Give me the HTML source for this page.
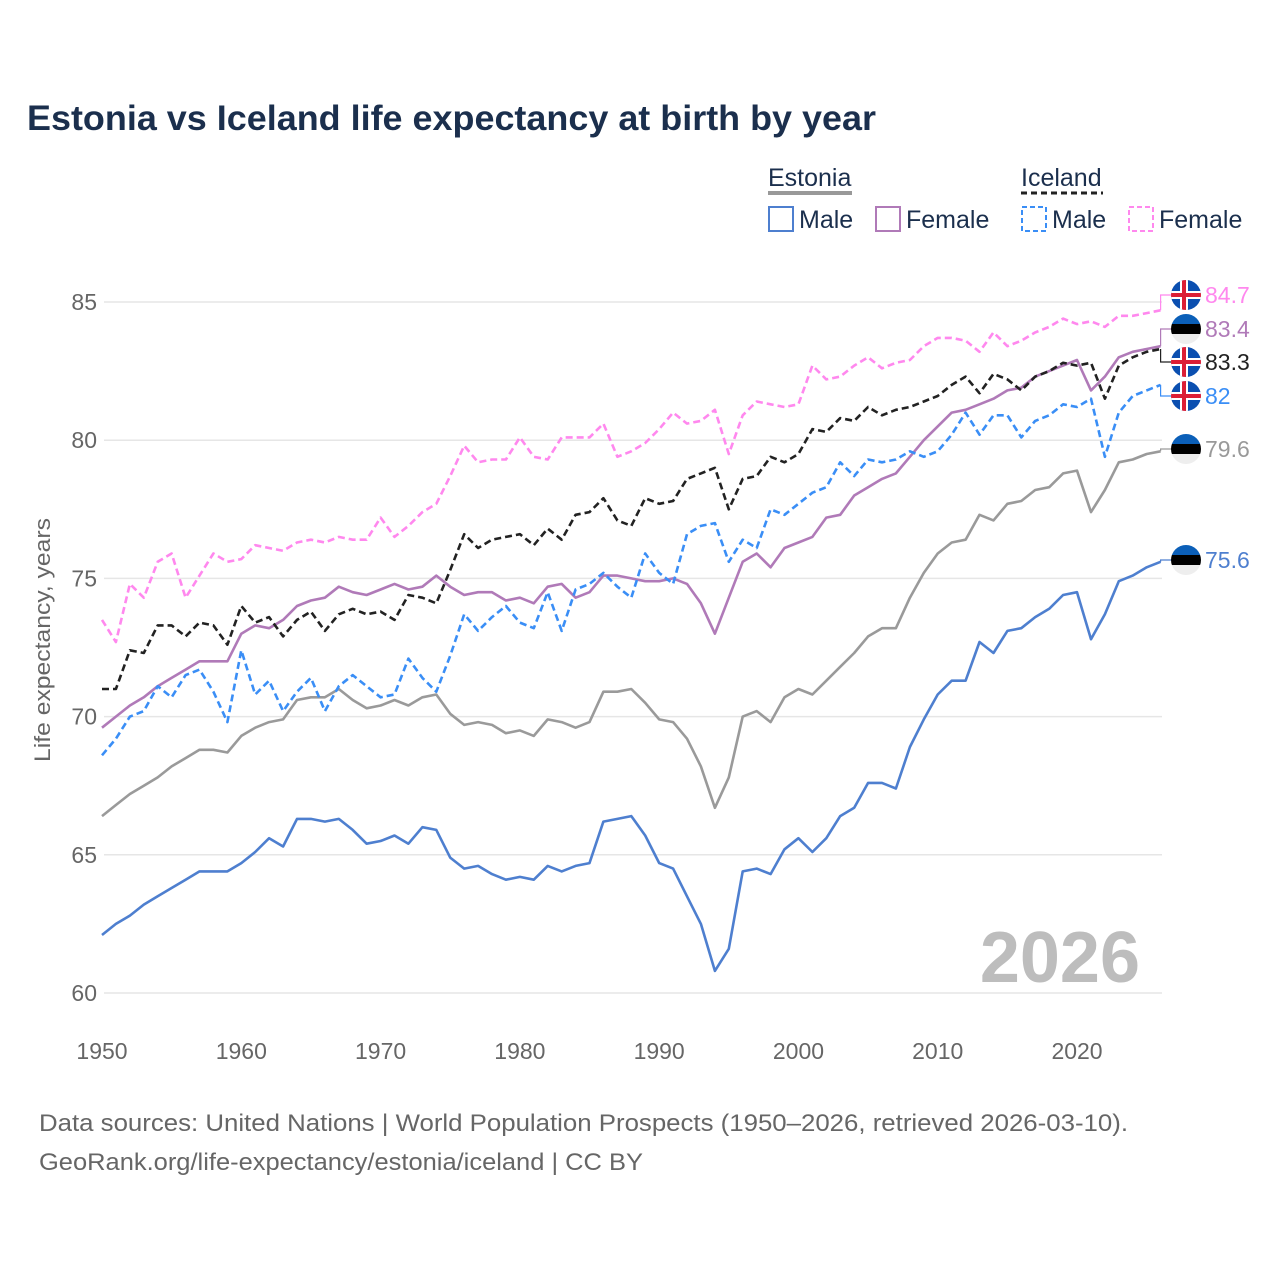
<!DOCTYPE html>
<html><head><meta charset="utf-8"><style>
html,body{margin:0;padding:0;background:#fff;width:1280px;height:1280px;overflow:hidden}
svg text{font-family:"Liberation Sans",sans-serif}
</style></head><body>
<svg id="chart" width="1280" height="1280" xmlns="http://www.w3.org/2000/svg">
<text x="27" y="130" font-size="35" font-weight="bold" fill="#1b2f4d" textLength="849" lengthAdjust="spacingAndGlyphs">Estonia vs Iceland life expectancy at birth by year</text>
<g font-size="25" fill="#1b2f4d">
 <text x="768" y="186" fill="#1b2f4d">Estonia</text>
 <line x1="768" y1="193" x2="852" y2="193" stroke="#999" stroke-width="4"/>
 <text x="1021" y="186">Iceland</text>
 <line x1="1021" y1="193" x2="1103" y2="193" stroke="#222" stroke-width="3" stroke-dasharray="6,4"/>
 <g><rect x="769" y="207" width="24" height="24" fill="none" stroke="#4e7fcf" stroke-width="2"/><text x="799" y="228">Male</text></g>
 <g><rect x="876" y="207" width="24" height="24" fill="none" stroke="#b07ab8" stroke-width="2"/><text x="906" y="228">Female</text></g>
 <g><rect x="1022" y="207" width="24" height="24" fill="none" stroke="#3a8ef6" stroke-width="2" stroke-dasharray="5,3"/><text x="1052" y="228">Male</text></g>
 <g><rect x="1129" y="207" width="24" height="24" fill="none" stroke="#ff88ee" stroke-width="2" stroke-dasharray="5,3"/><text x="1159" y="228">Female</text></g>
</g>
<text transform="translate(50,640) rotate(-90)" text-anchor="middle" font-size="22" fill="#666" textLength="244" lengthAdjust="spacingAndGlyphs">Life expectancy, years</text>
<g id="grid"></g><g id="xt"></g><g id="series"></g><g id="ends"></g>
<text x="1140" y="982" text-anchor="end" font-size="72" font-weight="bold" fill="#bdbdbd">2026</text>
<text x="39" y="1131" font-size="24" fill="#666" textLength="1089" lengthAdjust="spacingAndGlyphs">Data sources: United Nations | World Population Prospects (1950–2026, retrieved 2026-03-10).</text>
<text x="39" y="1170" font-size="24" fill="#666" textLength="604" lengthAdjust="spacingAndGlyphs">GeoRank.org/life-expectancy/estonia/iceland | CC BY</text>
</svg>
<script>
const startYear = 1950, endYear = 2026;
const yTicks = [60,65,70,75,80,85];
const xTicks = [1950,1960,1970,1980,1990,2000,2010,2020];
const estMale = [62.1,62.5,62.8,63.2,63.5,63.8,64.1,64.4,64.4,64.4,64.7,65.1,65.6,65.3,66.3,66.3,66.2,66.3,65.9,65.4,65.5,65.7,65.4,66.0,65.9,64.9,64.5,64.6,64.3,64.1,64.2,64.1,64.6,64.4,64.6,64.7,66.2,66.3,66.4,65.7,64.7,64.5,63.5,62.5,60.8,61.6,64.4,64.5,64.3,65.2,65.6,65.1,65.6,66.4,66.7,67.6,67.6,67.4,68.9,69.9,70.8,71.3,71.3,72.7,72.3,73.1,73.2,73.6,73.9,74.4,74.5,72.8,73.7,74.9,75.1,75.4,75.6];
const estTotal = [66.4,66.8,67.2,67.5,67.8,68.2,68.5,68.8,68.8,68.7,69.3,69.6,69.8,69.9,70.6,70.7,70.7,71.0,70.6,70.3,70.4,70.6,70.4,70.7,70.8,70.1,69.7,69.8,69.7,69.4,69.5,69.3,69.9,69.8,69.6,69.8,70.9,70.9,71.0,70.5,69.9,69.8,69.2,68.2,66.7,67.8,70.0,70.2,69.8,70.7,71.0,70.8,71.3,71.8,72.3,72.9,73.2,73.2,74.3,75.2,75.9,76.3,76.4,77.3,77.1,77.7,77.8,78.2,78.3,78.8,78.9,77.4,78.2,79.2,79.3,79.5,79.6];
const estFemale = [69.6,70.0,70.4,70.7,71.1,71.4,71.7,72.0,72.0,72.0,73.0,73.3,73.2,73.5,74.0,74.2,74.3,74.7,74.5,74.4,74.6,74.8,74.6,74.7,75.1,74.7,74.4,74.5,74.5,74.2,74.3,74.1,74.7,74.8,74.3,74.5,75.1,75.1,75.0,74.9,74.9,75.0,74.8,74.1,73.0,74.3,75.6,75.9,75.4,76.1,76.3,76.5,77.2,77.3,78.0,78.3,78.6,78.8,79.4,80.0,80.5,81.0,81.1,81.3,81.5,81.8,81.9,82.3,82.5,82.7,82.9,81.8,82.3,83.0,83.2,83.3,83.4];
const iceTotal = [71.0,71.0,72.4,72.3,73.3,73.3,72.9,73.4,73.3,72.6,74.0,73.4,73.6,72.9,73.5,73.8,73.1,73.7,73.9,73.7,73.8,73.5,74.4,74.3,74.1,75.3,76.6,76.1,76.4,76.5,76.6,76.2,76.8,76.4,77.3,77.4,77.9,77.1,76.9,77.9,77.7,77.8,78.6,78.8,79.0,77.5,78.6,78.7,79.4,79.2,79.5,80.4,80.3,80.8,80.7,81.2,80.9,81.1,81.2,81.4,81.6,82.0,82.3,81.7,82.4,82.2,81.8,82.3,82.5,82.8,82.7,82.8,81.5,82.7,83.0,83.2,83.3];
const iceMale = [68.6,69.2,70.0,70.2,71.1,70.7,71.5,71.7,70.9,69.8,72.4,70.8,71.3,70.2,70.9,71.4,70.2,71.1,71.5,71.1,70.7,70.8,72.1,71.4,70.9,72.2,73.7,73.1,73.6,74.0,73.4,73.2,74.5,73.1,74.6,74.8,75.2,74.7,74.3,75.9,75.2,74.8,76.6,76.9,77.0,75.6,76.4,76.1,77.5,77.3,77.7,78.1,78.3,79.2,78.7,79.3,79.2,79.3,79.6,79.4,79.6,80.2,81.0,80.2,80.9,80.9,80.1,80.7,80.9,81.3,81.2,81.5,79.4,81.0,81.6,81.8,82.0];
const iceFemale = [73.5,72.7,74.8,74.3,75.6,75.9,74.3,75.1,75.9,75.6,75.7,76.2,76.1,76.0,76.3,76.4,76.3,76.5,76.4,76.4,77.2,76.5,76.9,77.4,77.7,78.7,79.8,79.2,79.3,79.3,80.1,79.4,79.3,80.1,80.1,80.1,80.6,79.4,79.6,79.9,80.4,81.0,80.6,80.7,81.1,79.5,80.9,81.4,81.3,81.2,81.3,82.7,82.2,82.3,82.7,83.0,82.6,82.8,82.9,83.4,83.7,83.7,83.6,83.2,83.9,83.4,83.6,83.9,84.1,84.4,84.2,84.3,84.1,84.5,84.5,84.6,84.7];

const NS="http://www.w3.org/2000/svg";
const X0=102, X1=1160.6, Y85=302, Y60=993;
const x = yr => X0 + (yr-startYear)*(X1-X0)/(endYear-startYear);
const y = v => Y60 - (v-60)*(Y60-Y85)/25;
function mk(tag, attrs, parent){const e=document.createElementNS(NS,tag);for(const k in attrs)e.setAttribute(k,attrs[k]);parent.appendChild(e);return e;}
const grid=document.getElementById('grid');
yTicks.forEach(t=>{
  const l=mk('line',{x1:104,x2:1162,y1:y(t),y2:y(t),stroke:'#e6e6e6','stroke-width':1.5},grid);
  
  
  const tx=mk('text',{x:97,y:y(t)+8,'text-anchor':'end','font-size':23,fill:'#666'},grid);
  
  
  tx.textContent=t;
});
const xt=document.getElementById('xt');
xTicks.forEach(t=>{
  const tx=mk('text',{x:x(t),y:1059,'text-anchor':'middle','font-size':23,fill:'#666'},xt);
  
  
  tx.textContent=t;
});
const series=[
 {d:estMale,c:'#4e7fcf',dash:null,n:'estonia-male-line',ly:560,flag:'ee',lc:'#4e7fcf'},
 {d:estTotal,c:'#9a9a9a',dash:null,n:'estonia-total-line',ly:449,flag:'ee',lc:'#999'},
 {d:estFemale,c:'#b07ab8',dash:null,n:'estonia-female-line',ly:329,flag:'ee',lc:'#b07ab8'},
 {d:iceMale,c:'#3a8ef6',dash:'7,4',n:'iceland-male-line',ly:396,flag:'is',lc:'#3a8ef6'},
 {d:iceTotal,c:'#222',dash:'7,4',n:'iceland-total-line',ly:362,flag:'is',lc:'#222'},
 {d:iceFemale,c:'#ff88ee',dash:'7,4',n:'iceland-female-line',ly:295,flag:'is',lc:'#ff88ee'}
];
const sg=document.getElementById('series'), eg=document.getElementById('ends');
series.forEach(s=>{
  const pts=s.d.map((v,i)=>x(startYear+i).toFixed(1)+','+y(v).toFixed(1)).join(' ');
  const a={points:pts,fill:'none',stroke:s.c,'stroke-width':2.6,'stroke-linejoin':'round'};
  if(s.dash)a['stroke-dasharray']=s.dash;
  const p=mk('polyline',a,sg);
  
  
  const last=s.d[s.d.length-1], ey=y(last);
  const con=mk('polyline',{points:`${X1},${ey} ${X1},${s.ly} 1172,${s.ly}`,fill:'none',stroke:s.c,'stroke-width':1.2},eg);
  
  
  const g=mk('g',{},eg);
  
  
  const cx=1186, cy=s.ly, r=15;
  const cid='c'+s.n;
  const cp=mk('clipPath',{id:cid},g); mk('circle',{cx,cy,r},cp);
  const gg=mk('g',{'clip-path':`url(#${cid})`},g);
  if(s.flag==='ee'){
    mk('rect',{x:cx-r,y:cy-r,width:2*r,height:2*r/3,fill:'#0b5fb8'},gg);
    mk('rect',{x:cx-r,y:cy-r/3,width:2*r,height:2*r/3,fill:'#000'},gg);
    mk('rect',{x:cx-r,y:cy+r/3,width:2*r,height:2*r/3,fill:'#eee'},gg);
  } else {
    mk('rect',{x:cx-r,y:cy-r,width:2*r,height:2*r,fill:'#0b4fb0'},gg);
    mk('rect',{x:cx-r,y:cy-4,width:2*r,height:8,fill:'#fff'},gg);
    mk('rect',{x:cx-6,y:cy-r,width:8,height:2*r,fill:'#fff'},gg);
    mk('rect',{x:cx-r,y:cy-2,width:2*r,height:4,fill:'#dc1e35'},gg);
    mk('rect',{x:cx-4,y:cy-r,width:4,height:2*r,fill:'#dc1e35'},gg);
  }
  const t=mk('text',{x:1205,y:s.ly+8,'font-size':23,fill:s.lc},eg);
  
  
  t.textContent=last;
});
</script>
</body></html>
